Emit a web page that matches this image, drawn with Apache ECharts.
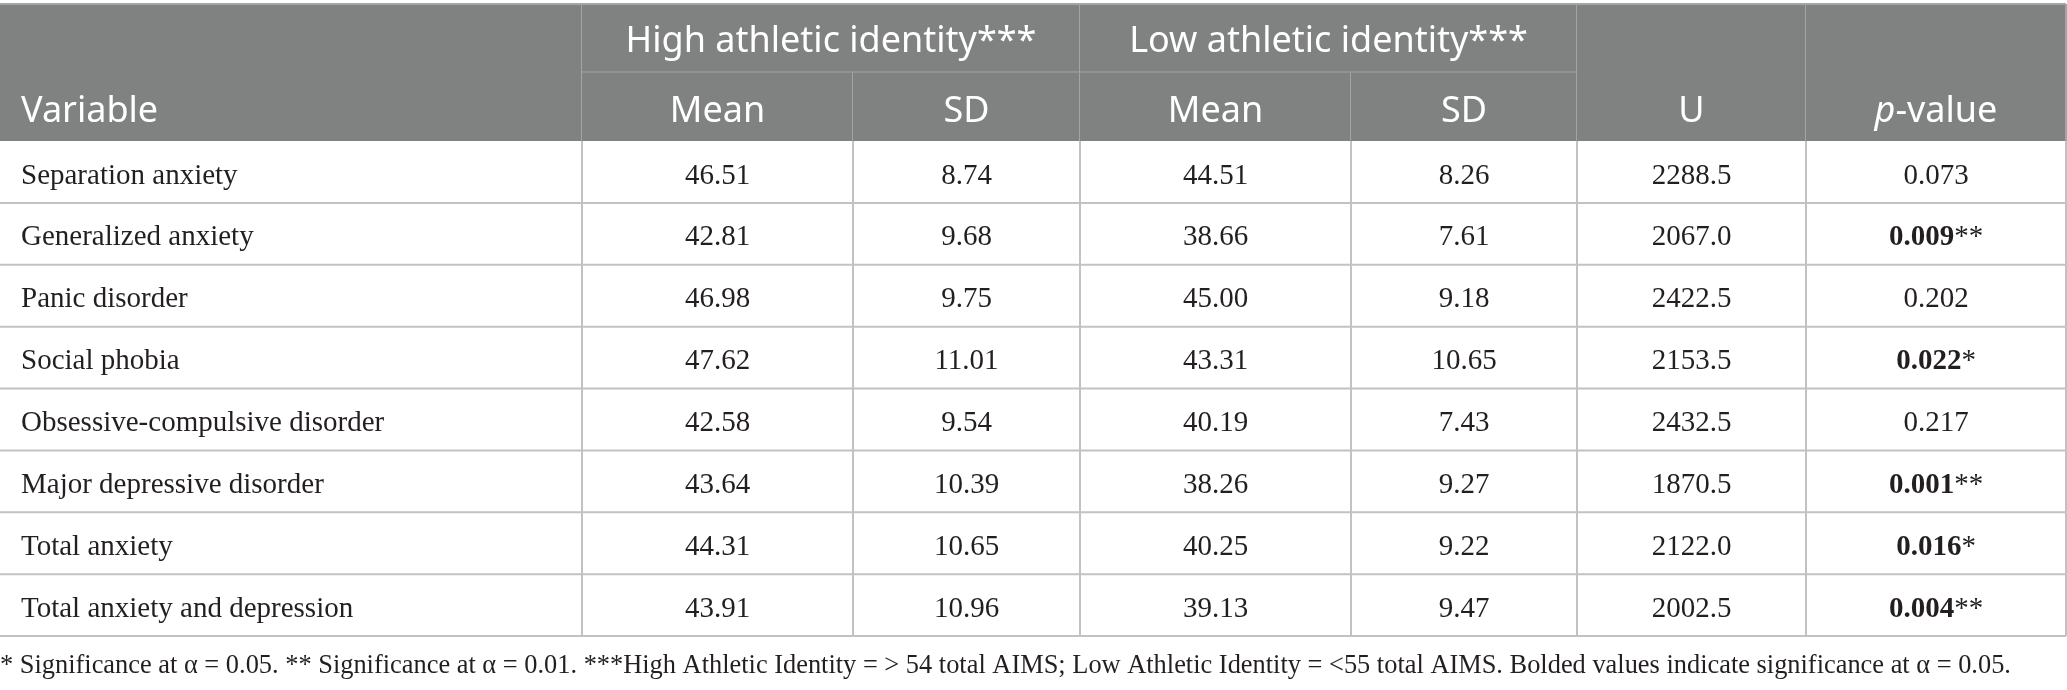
<!DOCTYPE html>
<html>
<head>
<meta charset="UTF-8">
<title>Athletic identity table</title>
<script src="https://cdn.jsdelivr.net/npm/echarts@6/dist/echarts.min.js"></script>
<style>
  html, body { margin: 0; padding: 0; background: #fff; }
  #main { width: 2067px; height: 690px; }
</style>
</head>
<body>
<div id="main"></div>
<script>
// table values
var variables = ['Separation anxiety', 'Generalized anxiety', 'Panic disorder', 'Social phobia',
  'Obsessive-compulsive disorder', 'Major depressive disorder', 'Total anxiety', 'Total anxiety and depression'];
var highMean = [46.51, 42.81, 46.98, 47.62, 42.58, 43.64, 44.31, 43.91];
var highSD = [8.74, 9.68, 9.75, 11.01, 9.54, 10.39, 10.65, 10.96];
var lowMean = [44.51, 38.66, 45.00, 43.31, 40.19, 38.26, 40.25, 39.13];
var lowSD = [8.26, 7.61, 9.18, 10.65, 7.43, 9.27, 9.22, 9.47];
var uValues = [2288.5, 2067.0, 2422.5, 2153.5, 2432.5, 1870.5, 2122.0, 2002.5];
var pValues = [0.073, 0.009, 0.202, 0.022, 0.217, 0.001, 0.016, 0.004];

var groupHeaders = ['High athletic identity***', 'Low athletic identity***'];
var subHeaders = ['Mean', 'SD', 'Mean', 'SD'];
var footnote = '* Significance at \u03b1 = 0.05. ** Significance at \u03b1 = 0.01. ***High Athletic Identity = > 54 total AIMS; ' +
  'Low Athletic Identity = <55 total AIMS. Bolded values indicate significance at \u03b1 = 0.05.';

// layout: column boundaries in x axis units
var colEdges = [0, 582, 853, 1080, 1351, 1577, 1806, 2066];

var headGray = '#808281';
var headLine = '#a3a5a4';
var bodyLine = '#c2c2c2';
var textDark = '#231f20';
var serif = '"Liberation Serif", "DejaVu Serif", serif';
var sans = '"Noto Sans", "Open Sans", sans-serif';
var headSize = 36, bodySize = 29;

// header cells: [c0, c1, r0, r1, textRow]
var headCells = [];
var headTexts = [];
headCells.push([0, 1, 0, 2, 1]); headTexts.push('Variable');
groupHeaders.forEach(function (g, i) {
  headCells.push([1 + i * 2, 3 + i * 2, 0, 1, 0]); headTexts.push(g);
});
subHeaders.forEach(function (s, i) {
  headCells.push([1 + i, 2 + i, 1, 2, 1]); headTexts.push(s);
});
headCells.push([5, 6, 0, 2, 1]); headTexts.push('U');
headCells.push([6, 7, 0, 2, 1]); headTexts.push('{i|p}{n|-value}');

// body cells: [col, row]
var bodyCells = [];
var bodyTexts = [];
variables.forEach(function (v, r) {
  var p = pValues[r];
  var stars = p < 0.01 ? '**' : (p < 0.05 ? '*' : '');
  var pText = p < 0.05 ? '{b|' + p.toFixed(3) + '}{n|' + stars + '}' : '{n|' + p.toFixed(3) + '}';
  var row = [v, highMean[r].toFixed(2), highSD[r].toFixed(2), lowMean[r].toFixed(2),
    lowSD[r].toFixed(2), uValues[r].toFixed(1), pText];
  row.forEach(function (t, c) {
    bodyCells.push([c, r]);
    bodyTexts.push(t);
  });
});

function lineEl(x1, y1, x2, y2, color) {
  return { type: 'line', shape: { x1: x1, y1: y1, x2: x2, y2: y2 },
    style: { stroke: color, lineWidth: 2 }, silent: true };
}

function renderHead(params, api) {
  var c0 = api.value(0), c1 = api.value(1), r0 = api.value(2), r1 = api.value(3), tr = api.value(4);
  var p0 = api.coord([colEdges[c0], r0]);
  var p1 = api.coord([colEdges[c1], r1]);
  var t0 = api.coord([0, tr])[1], t1 = api.coord([0, tr + 1])[1];
  var kids = [
    { type: 'rect', shape: { x: p0[0], y: p0[1], width: p1[0] - p0[0], height: p1[1] - p0[1] },
      style: { fill: headGray }, silent: true },
    { type: 'text', style: {
      text: headTexts[params.dataIndex],
      x: c0 === 0 ? p0[0] + 21 : (p0[0] + p1[0]) / 2,
      y: (t0 + t1) / 2 + (tr === 1 ? 5 : 3),
      align: c0 === 0 ? 'left' : 'center', verticalAlign: 'middle',
      fill: '#ffffff', fontFamily: sans, fontSize: headSize,
      rich: {
        i: { fontStyle: 'italic', fontFamily: sans, fontSize: headSize, fill: '#ffffff' },
        n: { fontFamily: sans, fontSize: headSize, fill: '#ffffff' }
      }
    }, silent: true }
  ];
  if (r0 === 0) kids.push(lineEl(p0[0], p0[1], p1[0], p0[1], headLine));
  if (r1 === 1) kids.push(lineEl(p0[0], p1[1], p1[0], p1[1], headLine));
  kids.push(lineEl(p1[0], p0[1], p1[0], p1[1], headLine));
  return { type: 'group', children: kids };
}

function renderBody(params, api) {
  var c = api.value(0), r = api.value(1);
  var left = api.coord([colEdges[c], r])[0];
  var right = api.coord([colEdges[c + 1], r])[0];
  var cy = api.coord([0, r])[1];
  var h = api.size([0, 1])[1];
  var top = cy - h / 2, bottom = cy + h / 2;
  return { type: 'group', children: [
    { type: 'text', style: {
      text: bodyTexts[params.dataIndex],
      x: c === 0 ? left + 21 : (left + right) / 2,
      y: cy + 4,
      align: c === 0 ? 'left' : 'center', verticalAlign: 'middle',
      fill: textDark, fontFamily: serif, fontSize: bodySize,
      rich: {
        b: { fontWeight: 'bold', fontFamily: serif, fontSize: bodySize, fill: textDark },
        n: { fontFamily: serif, fontSize: bodySize, fill: textDark }
      }
    }, silent: true },
    lineEl(right, top, right, bottom, bodyLine),
    lineEl(left, bottom, right, bottom, bodyLine)
  ] };
}

var myChart = echarts.init(document.getElementById('main'));
var option = {
  animation: false,
  title: {
    text: footnote, left: 0, top: 653, padding: 0,
    textStyle: { fontFamily: serif, fontSize: 26.4, fontWeight: 'normal', color: textDark }
  },
  grid: [
    { left: 0, top: 4, width: 2066, height: 137, outerBoundsMode: 'none' },
    { left: 0, top: 141, width: 2066, height: 495, outerBoundsMode: 'none' }
  ],
  xAxis: [
    { type: 'value', gridIndex: 0, min: 0, max: 2066, show: false },
    { type: 'value', gridIndex: 1, min: 0, max: 2066, show: false }
  ],
  yAxis: [
    { type: 'value', gridIndex: 0, min: 0, max: 2, inverse: true, show: false },
    { type: 'category', gridIndex: 1, data: variables, inverse: true, show: false }
  ],
  series: [
    { type: 'custom', xAxisIndex: 0, yAxisIndex: 0, renderItem: renderHead, data: headCells, clip: false },
    { type: 'custom', xAxisIndex: 1, yAxisIndex: 1, renderItem: renderBody, data: bodyCells, clip: false }
  ]
};
myChart.setOption(option);
</script>
</body>
</html>
